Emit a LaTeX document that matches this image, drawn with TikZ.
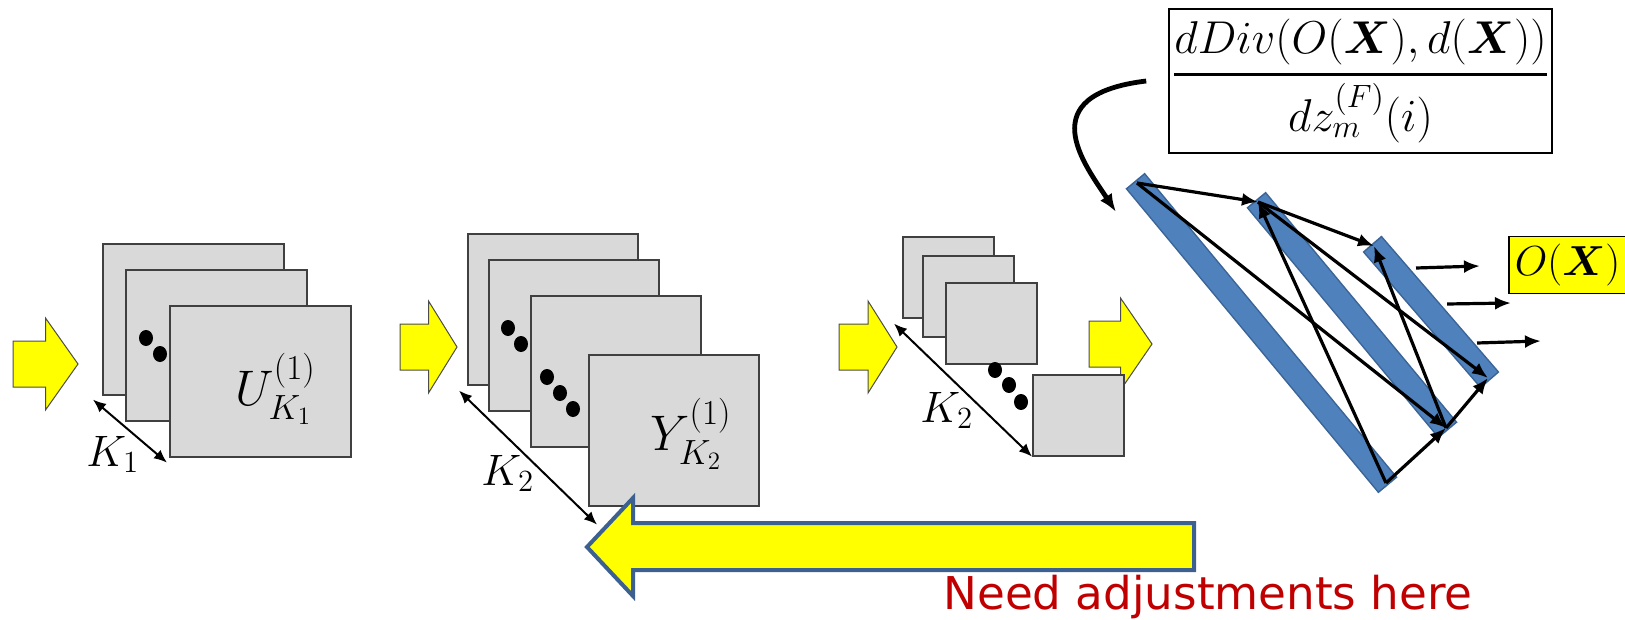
\RequirePackage{fix-cm}
\documentclass[tikz,border=0pt]{standalone}
\usepackage{amsmath}
\usepackage{bm}
\usepackage{fontspec}
\newfontfamily\notefont{DejaVu Sans}
\usetikzlibrary{arrows.meta, calc}

\definecolor{sheetgray}{HTML}{D9D9D9}
\definecolor{arrowyellow}{HTML}{FFFF00}
\definecolor{barblue}{HTML}{4F81BD}
\definecolor{baredge}{HTML}{3A6496}
\definecolor{backedge}{HTML}{3C6090}
\definecolor{notered}{HTML}{C00000}

\tikzset{
    sheet/.style={draw=black!75, fill=sheetgray, line width=0.8pt, anchor=north west, inner sep=0pt},
    bigsheet/.style={sheet, minimum width=90.5pt, minimum height=75.5pt},
    midsheet/.style={sheet, minimum width=85pt, minimum height=75.5pt},
    smallsheet/.style={sheet, minimum width=45.5pt, minimum height=40.5pt},
    maplabel/.style={anchor=base west, inner sep=0pt, font=\fontsize{25}{30}\selectfont},
    klabel/.style={anchor=base west, inner sep=0pt, font=\fontsize{22}{26}\selectfont},
    dimarrow/.style={{Latex[length=6.5pt,width=5.5pt]}-{Latex[length=6.5pt,width=5.5pt]}, line width=1pt},
    wire/.style={-{Latex[length=8pt,width=6.5pt]}, line width=1.6pt},
    barback/.style={baredge, line width=12.5pt, line cap=butt},
    barfront/.style={barblue, line width=11pt, line cap=butt, shorten <=0.8pt, shorten >=0.8pt},
    fatarrowline/.style={draw=black!70, fill=arrowyellow, line width=0.5pt},
    pics/fatarrow/.style={code={
        \draw[fatarrowline] (0,-23) -- (#1/2,-23) -- (#1/2,-46) -- (#1,0)
            -- (#1/2,46) -- (#1/2,23) -- (0,23) -- cycle;
    }}
}

\begin{document}
\begin{tikzpicture}[
    x=0.5pt, y=-0.5pt, % one unit is one pixel of the layout, y runs down
    >=Latex
]
    \useasboundingbox (0,0) rectangle (1625,620);

    % Yellow flow arrows between the stages
    \pic at (13,364) {fatarrow=65};
    \pic at (400,347) {fatarrow=57};
    \pic at (839,347) {fatarrow=58};
    \pic at (1089,344) {fatarrow=63};

    % First stack of maps
    \node[bigsheet] (ua) at (102,243) {};
    \node[bigsheet] (ub) at (125,269) {};
    \node[bigsheet] (uc) at (169,305) {};
    \fill (146,338) ellipse [x radius=7, y radius=8];
    \fill (160,354) ellipse [x radius=7, y radius=8];
    \node[maplabel] (ulabel) at (235,405) {$U_{K_1}^{(1)}$};

    % Second stack of maps
    \node[midsheet] (ya) at (467,233) {};
    \node[midsheet] (yb) at (488,259) {};
    \node[midsheet] (yc) at (530,295) {};
    \node[midsheet] (yd) at (588,354) {};
    \fill (508,328) ellipse [x radius=7, y radius=8];
    \fill (521,344) ellipse [x radius=7, y radius=8];
    \fill (547,377) ellipse [x radius=7, y radius=8];
    \fill (560,393) ellipse [x radius=7, y radius=8];
    \fill (573,409) ellipse [x radius=7, y radius=8];
    \node[maplabel] (ylabel) at (650,450) {$Y_{K_2}^{(1)}$};

    % Third stack of small maps
    \node[smallsheet] (fa) at (902,236) {};
    \node[smallsheet] (fb) at (922,255) {};
    \node[smallsheet] (fc) at (945,282) {};
    \node[smallsheet] (fd) at (1032,374) {};
    \fill (995,370) ellipse [x radius=7, y radius=8];
    \fill (1009,385) ellipse [x radius=7, y radius=8];
    \fill (1021,402) ellipse [x radius=7, y radius=8];

    % Backward arrow along the bottom
    \draw[draw=backedge, fill=arrowyellow, line width=2pt]
        (1194,523) -- (633,523) -- (633,498) -- (587,547) -- (633,596) -- (633,570) -- (1194,570) -- cycle;

    % Depth arrows with their labels
    \draw[dimarrow] ([shift={(-4.5pt,-2pt)}]ua.south west) -- ([shift={(-1pt,-2.5pt)}]uc.south west);
    \node[klabel] (k1label) at (86,466) {$K_1$};
    \draw[dimarrow] ([shift={(-4pt,-2.5pt)}]ya.south west) -- ([shift={(4.5pt,-9pt)}]yd.south west);
    \node[klabel] (k2label) at (481,485) {$K_2$};
    \draw[dimarrow] ([shift={(-4pt,-2.5pt)}]fa.south west) -- (fd.south west);
    \node[klabel] (k3label) at (920,422) {$K_2$};

    % Fully connected layers
    \coordinate (n1a) at (1137,183);
    \coordinate (n1b) at (1386,483);
    \coordinate (n2a) at (1258,202);
    \coordinate (n2b) at (1446,428);
    \coordinate (n3a) at (1374,246);
    \coordinate (n3b) at (1488,378);
    \foreach \t/\b in {n1a/n1b, n2a/n2b, n3a/n3b} {
        \draw[barback] ($(\t)!-1.5pt!(\b)$) -- ($(\b)!-1.5pt!(\t)$);
        \draw[barfront] ($(\t)!-1.5pt!(\b)$) -- ($(\b)!-1.5pt!(\t)$);
    }
    \foreach \s/\e in {n1a/n2a, n1a/n2b, n1b/n2a, n1b/n2b, n2a/n3a, n2a/n3b, n2b/n3a, n2b/n3b}
        \draw[wire] (\s) -- (\e);

    % Outputs
    \coordinate (o1) at (1416,268);
    \coordinate (o1e) at (1480,266);
    \coordinate (o2) at (1447,304);
    \coordinate (o2e) at (1511,303);
    \coordinate (o3) at (1477,343);
    \coordinate (o3e) at (1541,341);
    \draw[wire] (o1) -- (o1e);
    \draw[wire] (o2) -- (o2e);
    \draw[wire] (o3) -- (o3e);
    \node[draw, fill=arrowyellow, line width=0.8pt, anchor=west, minimum height=28.5pt, inner xsep=3pt,
        font=\fontsize{21}{25}\selectfont] (output) at (1508,265) {$O(\bm{X})$};

    % Gradient box and its pointer
    \node[draw, line width=0.8pt, minimum width=191.5pt, minimum height=72pt, inner sep=0pt,
        font=\fontsize{23}{28}\selectfont] (grad) at (1360.5,81)
        {$\displaystyle{dDiv(O(\bm{X}),d(\bm{X})) \above 1.3pt dz_m^{(F)}(i)}$};
    \coordinate (gradtip) at (1116,212);
    \draw[-{Latex[length=9pt,width=7pt]}, line width=2.4pt]
        ([xshift=-11pt]grad.west) .. controls (1030,95) and (1085,165) .. (gradtip);

    % Note
    \node[anchor=base west, inner sep=0pt, text=notered, font=\notefont\fontsize{22.6}{27}\selectfont]
        (note) at (943,609) {Need adjustments here};

\end{tikzpicture}
\end{document}
